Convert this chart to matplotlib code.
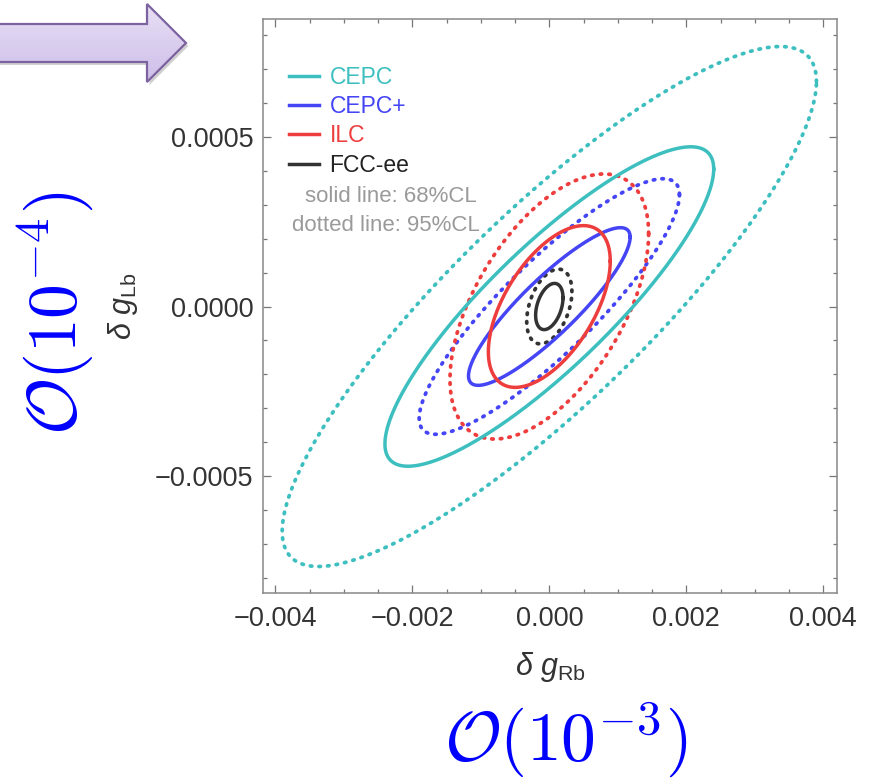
import numpy as np
import matplotlib
matplotlib.use('Agg')
import matplotlib.pyplot as plt
from matplotlib.patches import Polygon
from matplotlib.lines import Line2D
from matplotlib.colors import LinearSegmentedColormap

plt.rcParams['font.family'] = ['Liberation Sans', 'DejaVu Sans']
plt.rcParams['mathtext.fontset'] = 'custom'
plt.rcParams['mathtext.rm'] = 'Liberation Sans'
plt.rcParams['mathtext.it'] = 'Liberation Sans:italic'
plt.rcParams['mathtext.bf'] = 'Liberation Sans:bold'

# ---------------- data ----------------
experiments = ['CEPC', 'CEPC+', 'ILC', 'FCC-ee']
colors = ['#3DBFBF', '#4545F5', '#EE3D3D', '#333333']
text_colors = ['#3DBFBF', '#4545F5', '#EE3D3D', '#222222']
# 68% CL ellipses (centred at 0): half-extent in x, half-extent in y, correlation
sx68 = [0.00240, 0.00118, 0.00089, 0.00020]
sy68 = [0.000470, 0.000232, 0.000238, 0.000068]
rho68 = [0.86, 0.88, 0.56, 0.38]
# 95% CL ellipses
sx95 = [0.00390, 0.00190, 0.00145, 0.00033]
sy95 = [0.000765, 0.000376, 0.000390, 0.000110]
rho95 = [0.865, 0.875, 0.55, 0.40]

xticks = [-0.004, -0.002, 0.0, 0.002, 0.004]
xticklabels = ['\u22120.004', '\u22120.002', '0.000', '0.002', '0.004']
yticks = [-0.0005, 0.0, 0.0005]
yticklabels = ['\u22120.0005', '0.0000', '0.0005']


def ellipse(sx, sy, rho, n=600):
    t = np.linspace(0, 2 * np.pi, n)
    x = sx * np.cos(t)
    y = sy * (rho * np.cos(t) + np.sqrt(1 - rho ** 2) * np.sin(t))
    return x, y


W, H = 873, 780
fig = plt.figure(figsize=(W / 100, H / 100), dpi=100)
fig.patch.set_facecolor('white')

# overlay axes in pixel coordinates for decorations
ov = fig.add_axes([0, 0, 1, 1])
ov.set_zorder(0)
ov.axis('off')

# purple arrow
pts = np.array([(-5, 24), (147, 24), (147, 4), (186, 43), (147, 82), (147, 62), (-5, 62)])
shadow = Polygon(pts + np.array([2.5, 3]), closed=True, fc='black', ec='none', alpha=0.18)
ov.add_patch(shadow)
cmap = LinearSegmentedColormap.from_list('lav', ['#E8E0F5', '#CDBDE8'])
grad = np.linspace(0, 1, 100).reshape(-1, 1)
im = ov.imshow(grad, extent=(-5, 190, 85, 2), cmap=cmap, aspect='auto', zorder=1)
arrow = Polygon(pts, closed=True, fc='none', ec='#7D62A0', lw=1.6, zorder=2)
ov.add_patch(arrow)
im.set_clip_path(arrow)
ov.set_xlim(0, W)
ov.set_ylim(H, 0)

ov.text(566, 740, r'$\mathcal{O}(10^{-3})$', color='#0000FF', fontsize=50,
        ha='center', va='center', math_fontfamily='cm')
ov.text(55, 313, r'$\mathcal{O}(10^{-4})$', color='#0000FF', fontsize=50,
        ha='center', va='center', rotation=90, math_fontfamily='cm')

# main axes
ax = fig.add_axes([263 / W, (H - 593) / H, 574 / W, 574 / H])
ax.set_zorder(1)

lw = 2.5
for i, name in enumerate(experiments):
    x95, y95 = ellipse(sx95[i], sy95[i], rho95[i])
    ax.plot(x95, y95, color=colors[i], lw=2.7, linestyle=(0, (0.4, 1.9)),
            dash_capstyle='round')
for i, name in enumerate(experiments):
    x68, y68 = ellipse(sx68[i], sy68[i], rho68[i])
    ax.plot(x68, y68, color=colors[i], lw=lw)

ax.set_xlim(-0.00418, 0.0042)
ax.set_ylim(-0.000843, 0.000846)

ax.set_xticks(xticks)
ax.set_xticklabels(xticklabels)
ax.set_yticks(yticks)
ax.set_yticklabels(yticklabels)
ax.set_xticks(np.arange(-0.004, 0.00421, 0.0005), minor=True)
ax.set_yticks(np.arange(-0.0008, 0.00081, 0.0001), minor=True)
ax.tick_params(which='both', direction='in', top=True, right=True,
               color='#777777', width=0.9)
ax.tick_params(which='major', length=5.5, labelsize=19.5, labelcolor='#333333')
ax.tick_params(axis='x', which='major', pad=9)
ax.tick_params(axis='y', which='major', pad=7)
ax.tick_params(which='minor', length=3)
for s in ax.spines.values():
    s.set_color('#888888')
    s.set_linewidth(1.1)

ax.set_xlabel(r'$\delta\ g_{\mathrm{Rb}}$', fontsize=22, color='#333333', labelpad=13)
ax.set_ylabel(r'$\delta\ g_{\mathrm{Lb}}$', fontsize=22, color='#333333', labelpad=11)

handles = [Line2D([], [], color=c, lw=lw) for c in colors]
leg = ax.legend(handles, experiments, loc='upper left', bbox_to_anchor=(0.046, 0.918),
                frameon=False, fontsize=16.5, handlelength=1.3, handletextpad=0.45,
                labelspacing=0.27, borderpad=0, borderaxespad=0)
for t, c in zip(leg.get_texts(), text_colors):
    t.set_color(c)

ax.text(0.223, 0.690, 'solid line: 68%CL', transform=ax.transAxes, ha='center',
        va='center', fontsize=16, color='#9A9A9A')
ax.text(0.214, 0.641, 'dotted line: 95%CL', transform=ax.transAxes, ha='center',
        va='center', fontsize=16, color='#9A9A9A')

fig.savefig('out.png', dpi=100)
